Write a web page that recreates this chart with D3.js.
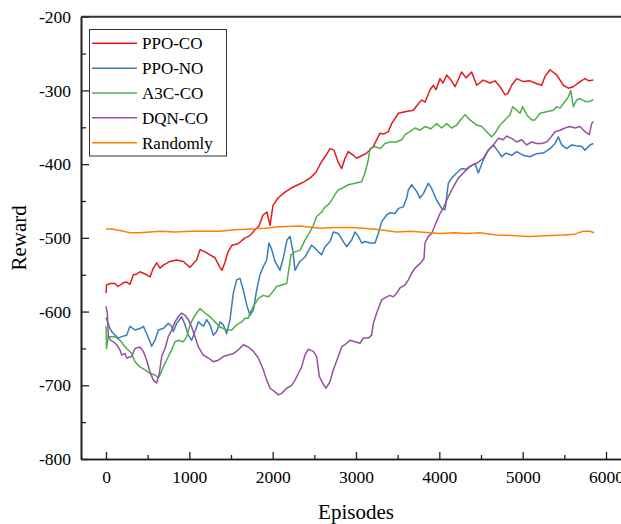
<!DOCTYPE html>
<html>
<head>
<meta charset="utf-8">
<script src="https://cdn.jsdelivr.net/npm/d3@7"></script>
<style>
  body { margin: 0; background: #fff; }
  svg { display: block; font-family: "Liberation Serif", "Times New Roman", serif; }
</style>
</head>
<body>
<svg id="chart"></svg>
<script>
// Reward curves, [episode, reward]

var ppoCo = [[0,-575],[6,-564],[48,-562],[108,-562],[144,-566],[208,-561],[248,-560],[288,-563],[328,-550],[372,-549],
  [408,-546],[468,-549],[528,-553],[568,-541],[608,-534],[648,-541],[688,-537],[768,-532],[848,-530],[928,-532],
  [1008,-540],[1088,-530],[1128,-516],[1188,-519],[1248,-523],[1308,-527],[1356,-538],[1392,-544],[1428,-533],[1464,-519],
  [1512,-510],[1584,-508],[1668,-500],[1728,-497],[1788,-489],[1836,-484],[1884,-469],[1932,-465],[1968,-483],[2004,-456],
  [2064,-446],[2148,-438],[2232,-432],[2304,-428],[2376,-424],[2448,-419],[2520,-411],[2580,-398],[2640,-388],[2688,-379],
  [2736,-381],[2784,-397],[2828,-406],[2868,-392],[2908,-383],[2968,-388],[3008,-392],[3060,-389],[3128,-385],[3208,-376],
  [3288,-358],[3336,-359],[3388,-356],[3428,-345],[3508,-331],[3588,-329],[3688,-327],[3748,-318],[3788,-313],[3828,-316],
  [3888,-299],[3928,-293],[3960,-299],[4008,-284],[4044,-290],[4088,-279],[4140,-286],[4188,-295],[4268,-275],[4320,-283],
  [4388,-275],[4448,-293],[4528,-286],[4608,-290],[4668,-287],[4728,-295],[4788,-306],[4824,-304],[4868,-293],[4928,-284],
  [5008,-288],[5088,-287],[5148,-290],[5228,-293],[5268,-281],[5328,-272],[5408,-279],[5488,-293],[5548,-297],[5608,-295],
  [5688,-288],[5748,-284],[5796,-287],[5848,-286]];

var ppoNo = [[0,-608],[48,-623],[68,-627],[108,-632],[148,-636],[188,-634],[248,-632],[288,-620],[348,-625],[408,-623],
  [448,-620],[488,-630],[528,-641],[548,-647],[588,-639],[628,-625],[688,-623],[748,-616],[788,-620],[808,-627],
  [848,-616],[908,-607],[948,-618],[988,-632],[1028,-639],[1068,-627],[1108,-614],[1168,-620],[1208,-611],[1248,-618],
  [1288,-632],[1328,-627],[1368,-614],[1408,-618],[1448,-630],[1488,-611],[1528,-575],[1568,-557],[1608,-555],[1648,-571],
  [1688,-591],[1728,-605],[1768,-598],[1808,-571],[1848,-550],[1888,-539],[1928,-530],[1956,-507],[1992,-517],[2028,-532],
  [2088,-544],[2128,-527],[2172,-503],[2208,-498],[2244,-519],[2268,-544],[2292,-539],[2328,-532],[2388,-526],[2468,-510],
  [2508,-514],[2548,-519],[2588,-523],[2628,-512],[2688,-505],[2728,-492],[2788,-494],[2848,-505],[2888,-512],[2948,-503],
  [2988,-492],[3028,-498],[3068,-507],[3108,-505],[3168,-507],[3228,-507],[3268,-494],[3308,-478],[3368,-469],[3408,-466],
  [3468,-467],[3508,-460],[3568,-458],[3608,-446],[3628,-435],[3668,-428],[3728,-437],[3768,-446],[3808,-440],[3868,-426],
  [3908,-433],[3968,-449],[4028,-460],[4068,-462],[4108,-426],[4148,-419],[4208,-412],[4268,-406],[4320,-407],[4368,-403],
  [4428,-399],[4468,-412],[4528,-394],[4588,-381],[4648,-374],[4708,-383],[4748,-390],[4800,-385],[4868,-388],[4928,-383],
  [5008,-388],[5088,-390],[5160,-386],[5248,-385],[5328,-379],[5388,-372],[5428,-363],[5468,-374],[5528,-379],[5588,-374],
  [5640,-375],[5708,-376],[5748,-381],[5808,-374],[5848,-372]];

var a3cCo = [[0,-620],[6,-650],[28,-634],[108,-634],[168,-639],[208,-645],[248,-650],[308,-657],[348,-668],[408,-675],
  [468,-679],[528,-684],[588,-686],[628,-690],[648,-686],[688,-675],[748,-661],[788,-652],[828,-641],[868,-639],
  [928,-641],[968,-634],[1008,-618],[1048,-609],[1088,-602],[1128,-596],[1188,-602],[1248,-607],[1308,-614],[1368,-621],
  [1408,-623],[1448,-625],[1508,-625],[1568,-618],[1628,-614],[1668,-609],[1708,-609],[1728,-602],[1768,-593],[1828,-582],
  [1888,-578],[1948,-580],[1988,-575],[2048,-566],[2108,-564],[2168,-562],[2200,-539],[2220,-523],[2268,-519],[2328,-517],
  [2388,-503],[2448,-492],[2488,-483],[2528,-471],[2588,-465],[2628,-458],[2668,-455],[2708,-449],[2748,-441],[2788,-435],
  [2844,-432],[2908,-428],[2988,-426],[3068,-424],[3108,-412],[3148,-394],[3168,-379],[3228,-376],[3288,-379],[3348,-372],
  [3408,-370],[3480,-370],[3548,-367],[3588,-360],[3648,-356],[3708,-351],[3768,-354],[3828,-349],[3900,-352],[3968,-345],
  [4028,-351],[4088,-345],[4148,-351],[4208,-347],[4268,-338],[4308,-333],[4368,-340],[4448,-347],[4508,-349],[4568,-356],
  [4628,-363],[4668,-358],[4728,-347],[4788,-340],[4848,-333],[4880,-322],[4928,-327],[4968,-331],[5000,-322],[5048,-333],
  [5108,-340],[5148,-340],[5208,-331],[5288,-329],[5368,-327],[5408,-322],[5448,-324],[5508,-315],[5548,-309],[5576,-300],
  [5608,-322],[5648,-313],[5688,-311],[5748,-315],[5808,-315],[5848,-312]];

var dqnCo = [[0,-593],[16,-602],[28,-634],[56,-639],[88,-641],[128,-645],[168,-652],[188,-659],[228,-657],[248,-663],
  [308,-661],[348,-650],[408,-648],[448,-654],[488,-666],[528,-682],[568,-693],[608,-697],[640,-684],[668,-661],
  [708,-650],[748,-634],[788,-625],[828,-614],[868,-607],[908,-602],[948,-605],[988,-611],[1028,-621],[1068,-634],
  [1108,-648],[1168,-659],[1228,-663],[1288,-668],[1348,-666],[1408,-661],[1468,-659],[1528,-657],[1588,-652],[1648,-645],
  [1708,-648],[1768,-654],[1828,-663],[1888,-679],[1928,-693],[1968,-704],[2028,-709],[2068,-713],[2108,-711],[2168,-704],
  [2228,-700],[2268,-693],[2308,-684],[2348,-675],[2388,-659],[2428,-651],[2488,-654],[2528,-661],[2560,-688],[2600,-697],
  [2640,-704],[2688,-695],[2728,-679],[2788,-661],[2828,-648],[2888,-643],[2928,-639],[2988,-641],[3048,-643],[3088,-636],
  [3148,-636],[3188,-632],[3208,-616],[3248,-602],[3308,-584],[3368,-580],[3408,-578],[3448,-580],[3488,-575],[3528,-568],
  [3588,-564],[3628,-557],[3668,-548],[3708,-541],[3768,-535],[3816,-528],[3828,-507],[3868,-498],[3908,-494],[3948,-483],
  [4008,-467],[4056,-458],[4108,-444],[4168,-431],[4228,-419],[4288,-412],[4368,-403],[4448,-399],[4528,-392],[4588,-381],
  [4648,-374],[4708,-365],[4768,-367],[4808,-362],[4868,-365],[4928,-370],[4988,-367],[5048,-374],[5108,-370],[5168,-372],
  [5228,-372],[5288,-370],[5328,-365],[5388,-356],[5448,-354],[5508,-351],[5568,-349],[5628,-351],[5688,-349],[5748,-356],
  [5800,-360],[5828,-345],[5848,-342]];

var randomly = [[0,-488],[72,-488],[168,-490],[288,-493],[408,-493],[528,-492],[648,-491],[828,-492],[1008,-491],[1188,-491],
  [1368,-491],[1548,-489],[1728,-488],[1908,-487],[2088,-485],[2328,-484],[2568,-487],[2748,-486],[2928,-486],[3088,-487],
  [3288,-489],[3488,-492],[3648,-491],[4008,-494],[4188,-493],[4328,-494],[4488,-493],[4688,-496],[4908,-497],[5088,-498],
  [5268,-497],[5488,-496],[5628,-495],[5724,-491],[5808,-491],[5856,-493]];

var seriesNames = ["PPO-CO", "PPO-NO", "A3C-CO", "DQN-CO", "Randomly"];
var seriesData = [ppoCo, ppoNo, a3cCo, dqnCo, randomly];
var colors = ["#e41a1c", "#377eb8", "#4daf4a", "#984ea3", "#ff7f00"];

var xTicks = [0, 1000, 2000, 3000, 4000, 5000, 6000];
var xMinor = [500, 1500, 2500, 3500, 4500, 5500];
var yTicks = [-800, -700, -600, -500, -400, -300, -200];
var yMinor = [-750, -650, -550, -450, -350, -250];

var svgWidth = 621, svgHeight = 524;
var plotLeft = 81, plotRight = 631, plotTop = 16.7, plotBottom = 459;

var svg = d3.select("#chart")
    .attr("width", svgWidth)
    .attr("height", svgHeight);

var x = d3.scaleLinear().domain([-300, 6300]).range([plotLeft, plotRight]);
var y = d3.scaleLinear().domain([-800, -200]).range([plotBottom, plotTop]);

// plain hyphen minus, like the original labels
var plainFormat = function (d) { return String(d); };

// lines
var line = d3.line()
    .x(function (d) { return x(d[0]); })
    .y(function (d) { return y(d[1]); });

svg.selectAll("path.series")
    .data(seriesData)
    .enter()
    .append("path")
    .attr("class", "series")
    .attr("d", line)
    .attr("fill", "none")
    .attr("stroke", function (d, i) { return colors[i]; })
    .attr("stroke-width", 1.5)
    .attr("stroke-linejoin", "round");

// axes, ticks pointing inward
svg.append("g")
    .attr("transform", "translate(0," + plotBottom + ")")
    .call(d3.axisBottom(x).tickValues(xTicks).tickFormat(plainFormat)
      .tickSize(-7).tickSizeOuter(0).tickPadding(12));
svg.append("g")
    .attr("transform", "translate(0," + plotBottom + ")")
    .call(d3.axisBottom(x).tickValues(xMinor).tickSize(-4).tickSizeOuter(0).tickFormat(""));

svg.append("g")
    .attr("transform", "translate(" + plotLeft + ",0)")
    .call(d3.axisLeft(y).tickValues(yTicks).tickFormat(plainFormat)
      .tickSize(-8).tickSizeOuter(0).tickPadding(10));
svg.append("g")
    .attr("transform", "translate(" + plotLeft + ",0)")
    .call(d3.axisLeft(y).tickValues(yMinor).tickSize(-5).tickSizeOuter(0).tickFormat(""));

svg.selectAll(".domain").attr("stroke", "#222").attr("stroke-width", 1.6);
svg.selectAll(".tick line").attr("stroke", "#222").attr("stroke-width", 1.3);
svg.selectAll(".tick text")
    .attr("font-family", "'Liberation Serif', 'Times New Roman', serif")
    .attr("font-size", 17.5)
    .attr("fill", "#000");

// top frame line
svg.append("line")
    .attr("x1", plotLeft).attr("x2", plotRight)
    .attr("y1", plotTop).attr("y2", plotTop)
    .attr("stroke", "#333")
    .attr("stroke-width", 2);

// axis titles
svg.append("text")
    .attr("x", 356)
    .attr("y", 519)
    .attr("text-anchor", "middle")
    .attr("font-size", 21)
    .text("Episodes");

svg.append("text")
    .attr("transform", "translate(26," + ((plotTop + plotBottom) / 2) + ") rotate(-90)")
    .attr("text-anchor", "middle")
    .attr("font-size", 21)
    .text("Reward");

// legend
var legend = svg.append("g");
legend.append("rect")
    .attr("x", 89.5).attr("y", 29.5)
    .attr("width", 137).attr("height", 126.5)
    .attr("fill", "#fff")
    .attr("stroke", "#333")
    .attr("stroke-width", 1);

var rows = legend.selectAll("g.row")
    .data(seriesNames)
    .enter()
    .append("g")
    .attr("class", "row")
    .attr("transform", function (d, i) { return "translate(0," + (43.3 + i * 24.85) + ")"; });

rows.append("line")
    .attr("x1", 92).attr("x2", 137)
    .attr("stroke", function (d, i) { return colors[i]; })
    .attr("stroke-width", 1.5);

rows.append("text")
    .attr("x", 142)
    .attr("y", 6)
    .attr("font-size", 17)
    .text(function (d) { return d; });
</script>
</body>
</html>
